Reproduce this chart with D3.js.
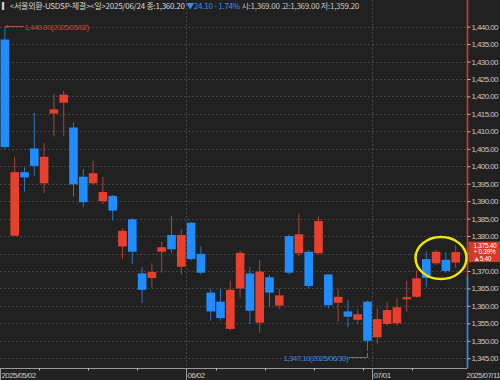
<!DOCTYPE html>
<html>
<head>
<meta charset="utf-8">
<script src="https://cdn.jsdelivr.net/npm/d3@7/dist/d3.min.js"></script>
<style>
  body { margin: 0; background: #212121; }
  svg { display: block; }
  .lbl { font-family: "Liberation Sans", Arial, sans-serif; font-size: 8px; letter-spacing: -0.6px; }
</style>
</head>
<body>
<div class="chart"></div>
<script>
// USD/KRW daily candles, 2025/05/02 - 2025/07/11

var dates = ["05/02","05/07","05/08","05/09","05/12","05/13","05/14","05/15","05/16",
  "05/19","05/20","05/21","05/22","05/23","05/26","05/27","05/28","05/29","05/30",
  "06/02","06/04","06/05","06/09","06/10","06/11","06/12","06/13","06/16","06/17",
  "06/18","06/19","06/20","06/23","06/24","06/25","06/26","06/27","06/30",
  "07/01","07/02","07/03","07/04","07/07","07/08","07/09","07/10","07/11"];
var opens = [1436.3,1380.1,1398.3,1405.1,1395.1,1415.1,1418.2,1411.1,1397.0,
  1395.1,1390.0,1391.5,1377.0,1384.8,1369.3,1368.0,1375.5,1380.3,1371.2,
  1383.8,1374.9,1363.8,1361.2,1353.4,1365.0,1369.3,1355.2,1368.2,1360.1,
  1380.0,1375.1,1375.5,1375.1,1369.0,1360.9,1358.4,1356.0,1361.2,
  1351.0,1354.8,1355.0,1361.9,1362.6,1373.4,1372.2,1373.2,1372.4];
var highs = [1440.0,1402.7,1399.7,1415.3,1406.6,1420.7,1421.6,1412.5,1399.2,
  1401.6,1397.0,1391.8,1382.2,1385.2,1371.2,1372.2,1378.4,1385.8,1382.0,
  1384.0,1377.1,1364.8,1364.8,1367.2,1375.8,1371.2,1373.2,1368.9,1364.9,
  1380.5,1386.5,1376.0,1385.6,1369.0,1364.8,1361.7,1359.0,1361.5,
  1359.3,1361.2,1362.2,1367.2,1370.1,1375.5,1376.0,1375.4,1377.4];
var lows = [1405.0,1380.0,1392.7,1397.3,1392.3,1408.5,1408.7,1391.3,1388.2,
  1394.6,1389.2,1384.4,1373.4,1372.0,1360.8,1365.3,1369.5,1375.2,1368.9,
  1373.0,1369.0,1355.8,1355.8,1353.0,1362.5,1354.8,1352.3,1359.8,1359.1,
  1369.0,1374.3,1365.0,1374.6,1359.2,1355.5,1353.9,1354.8,1347.1,
  1349.0,1354.3,1354.3,1358.4,1362.4,1365.3,1371.7,1369.5,1370.8];
var closes = [1405.5,1398.3,1396.8,1400.1,1402.7,1416.3,1420.5,1394.8,1389.7,
  1398.0,1392.6,1387.3,1381.5,1375.5,1364.6,1369.7,1376.8,1376.2,1380.3,
  1373.4,1369.5,1358.4,1356.5,1364.6,1375.2,1358.6,1369.8,1363.8,1363.0,
  1369.5,1380.5,1365.7,1384.3,1360.2,1362.6,1356.9,1357.6,1350.0,
  1356.2,1358.8,1359.6,1362.5,1367.9,1368.0,1375.5,1370.0,1375.4];

var yTicks = [1345,1350,1355,1360,1365,1370,1375,1380,1385,1390,1395,1400,
  1405,1410,1415,1420,1425,1430,1435,1440];
var weekStarts = ["05/12","05/19","05/26","06/09","06/16","06/23","06/30","07/07"];
var monthStarts = ["05/02","06/02","07/01"];
var monthLabels = ["2025/05/02","06/02","07/01"];
var lastLabel = "2025/07/11";

var svgWidth = 500, svgHeight = 380;
var plotTop = 13, plotBottom = 368, axisX = 467.5;

var red = "#e8402c", blue = "#1f8cff";
var redWick = "#b3402f", blueWick = "#2e72c0";

var svg = d3.select(".chart").append("svg")
  .attr("width", svgWidth)
  .attr("height", svgHeight);

svg.append("rect").attr("width", svgWidth).attr("height", svgHeight).attr("fill", "#212121");

// scales
var x = d3.scaleBand().domain(dates).range([0, dates.length * 9.8]).padding(0);
var y = d3.scaleLinear().domain([1342.2, 1443.9]).range([plotBottom, plotTop]);
var bw = x.bandwidth() * 0.88;

// grid
svg.append("g").selectAll("line")
  .data(yTicks)
  .enter().append("line")
  .attr("x1", 0).attr("x2", axisX)
  .attr("y1", function(d) { return Math.round(y(d)) + 0.5; })
  .attr("y2", function(d) { return Math.round(y(d)) + 0.5; })
  .attr("stroke", "#444").attr("stroke-dasharray", "2,2");

svg.append("g").selectAll("line")
  .data(monthStarts.slice(1))
  .enter().append("line")
  .attr("x1", function(d) { return Math.round(x(d)) + 0.5; })
  .attr("x2", function(d) { return Math.round(x(d)) + 0.5; })
  .attr("y1", 0).attr("y2", plotBottom)
  .attr("stroke", "#444").attr("stroke-dasharray", "2,2");

// candles
var candles = dates.map(function(d, i) {
  return { date: d, o: opens[i], h: highs[i], l: lows[i], c: closes[i] };
});

var cg = svg.append("g");
cg.selectAll("line.wick")
  .data(candles)
  .enter().append("line")
  .attr("class", "wick")
  .attr("x1", function(d) { return x(d.date) + x.bandwidth() / 2; })
  .attr("x2", function(d) { return x(d.date) + x.bandwidth() / 2; })
  .attr("y1", function(d) { return y(d.h); })
  .attr("y2", function(d) { return y(d.l); })
  .attr("stroke", function(d) { return d.c >= d.o ? redWick : blueWick; })
  .attr("stroke-width", 1);

cg.selectAll("rect.body")
  .data(candles)
  .enter().append("rect")
  .attr("class", "body")
  .attr("x", function(d) { return x(d.date) + (x.bandwidth() - bw) / 2; })
  .attr("width", bw)
  .attr("y", function(d) { return y(Math.max(d.o, d.c)); })
  .attr("height", function(d) { return Math.max(1, Math.abs(y(d.o) - y(d.c))); })
  .attr("fill", function(d) { return d.c >= d.o ? red : blue; });

// right price axis
var lastClose = closes[closes.length - 1];
var prevClose = closes[closes.length - 2];
var py = y(lastClose);
var splitY = y(1368.5);

svg.append("line")
  .attr("x1", axisX).attr("x2", axisX).attr("y1", 0).attr("y2", splitY)
  .attr("stroke", "#d8382a").attr("stroke-width", 1.6);
svg.append("line")
  .attr("x1", axisX).attr("x2", axisX).attr("y1", splitY).attr("y2", plotBottom)
  .attr("stroke", "#2f8ff5").attr("stroke-width", 1.6);

var yAxis = d3.axisRight(y)
  .tickValues(yTicks)
  .tickSize(3)
  .tickPadding(1)
  .tickFormat(d3.format(",.2f"));

var ya = svg.append("g")
  .attr("transform", "translate(" + axisX + ",0)")
  .call(yAxis);
ya.select(".domain").remove();
ya.selectAll(".tick line").attr("stroke", "#bbb");
ya.selectAll(".tick text")
  .attr("class", "lbl")
  .attr("fill", "#c8c8c8")
  .style("font-family", "Liberation Sans, Arial, sans-serif")
  .style("font-size", "8px");
// the label under the current price box is covered
ya.selectAll(".tick")
  .filter(function(d) { return Math.abs(y(d) - py) < 11; })
  .select("text").remove();

// current price box
svg.append("rect")
  .attr("x", axisX + 1).attr("y", py - 10.5)
  .attr("width", svgWidth - axisX - 1).attr("height", 20.5)
  .attr("fill", "#d33a2b");
var boxLines = [d3.format(",.2f")(lastClose),
  "+ " + d3.format(".2f")((lastClose - prevClose) / prevClose * 100) + "%",
  "\u25B2" + d3.format(".2f")(lastClose - prevClose)];
svg.append("g").selectAll("text")
  .data(boxLines)
  .enter().append("text")
  .attr("class", "lbl")
  .attr("x", axisX + 6)
  .attr("y", function(d, i) { return py - 4.3 + i * 6.5; })
  .attr("fill", "#fff")
  .style("font-family", "Liberation Sans, Arial, sans-serif")
  .style("font-size", "6.5px")
  .style("letter-spacing", "-0.3px")
  .text(function(d) { return d; });

// x axis
svg.append("line")
  .attr("x1", 0).attr("x2", axisX).attr("y1", plotBottom + 0.5).attr("y2", plotBottom + 0.5)
  .attr("stroke", "#9a9a9a");

svg.append("g").selectAll("line")
  .data(weekStarts)
  .enter().append("line")
  .attr("x1", function(d) { return Math.round(x(d)) + 0.5; })
  .attr("x2", function(d) { return Math.round(x(d)) + 0.5; })
  .attr("y1", plotBottom).attr("y2", plotBottom + 2.5)
  .attr("stroke", "#bbb");

svg.append("g").selectAll("line")
  .data(monthStarts)
  .enter().append("line")
  .attr("x1", function(d) { return Math.round(x(d)) + 0.5; })
  .attr("x2", function(d) { return Math.round(x(d)) + 0.5; })
  .attr("y1", plotBottom).attr("y2", svgHeight)
  .attr("stroke", "#9a9a9a");

svg.append("g").selectAll("text")
  .data(monthStarts)
  .enter().append("text")
  .attr("class", "lbl")
  .attr("x", function(d) { return Math.round(x(d)) + 1.5; })
  .attr("y", 377.5)
  .attr("fill", "#c8c8c8")
  .text(function(d, i) { return monthLabels[i]; });

svg.append("text")
  .attr("class", "lbl")
  .attr("x", svgWidth)
  .attr("y", 377.5)
  .attr("text-anchor", "end")
  .attr("fill", "#c8c8c8")
  .text(lastLabel);

// max / min markers
var iMax = highs.indexOf(d3.max(highs));
var iMin = lows.indexOf(d3.min(lows));
var cx = function(i) { return x(dates[i]) + x.bandwidth() / 2; };

var mxY = Math.round(y(highs[iMax])) - 0.5;
svg.append("line")
  .attr("x1", cx(iMax)).attr("x2", cx(iMax) + 19).attr("y1", mxY).attr("y2", mxY)
  .attr("stroke", "#c0483a");
svg.append("path")
  .attr("d", "M" + cx(iMax) + "," + mxY + "l3,-1.8v3.6z")
  .attr("fill", "#c0483a");
svg.append("text")
  .attr("class", "lbl")
  .attr("x", cx(iMax) + 19.5).attr("y", mxY + 3)
  .attr("fill", "#c8483a")
  .text(d3.format(",.2f")(highs[iMax]) + "(2025/" + dates[iMax] + ")");

var mnY = Math.round(y(lows[iMin])) + 6.5;
svg.append("path")
  .attr("d", "M" + cx(iMin) + "," + (y(lows[iMin]) + 2) + "V" + mnY + "H" + (cx(iMin) - 19))
  .attr("fill", "none")
  .attr("stroke", "#2f7fd8");
svg.append("text")
  .attr("class", "lbl")
  .attr("x", cx(iMin) - 19.5).attr("y", mnY + 3)
  .attr("text-anchor", "end")
  .attr("fill", "#3a86e0")
  .text(d3.format(",.2f")(lows[iMin]) + "(2025/" + dates[iMin] + ")");

// highlight ellipse on the last candles
svg.append("ellipse")
  .attr("cx", (x("07/08") + x("07/11") + x.bandwidth()) / 2)
  .attr("cy", 258)
  .attr("rx", 25.5).attr("ry", 21)
  .attr("fill", "none")
  .attr("stroke", "#f2e600")
  .attr("stroke-width", 2.5);

// header
var title = svg.append("text")
  .attr("x", 2).attr("y", 9)
  .style("font-family", "'Noto Sans CJK KR', sans-serif")
  .style("font-size", "8px")
  .style("letter-spacing", "-0.25px")
  .attr("fill", "#d8d8d8");
title.append("tspan").text("\u258E<서울외환-USDSP-체결><일>2025/06/24 종:1,360.20 ");
title.append("tspan").attr("fill", "#3a8ef0").text("\u25BC24.10  - 1.74% ");
title.append("tspan").attr("fill", "#c8c8c8").text("시:1,369.00 고:1,369.00 저:1,359.20");
</script>
</body>
</html>
